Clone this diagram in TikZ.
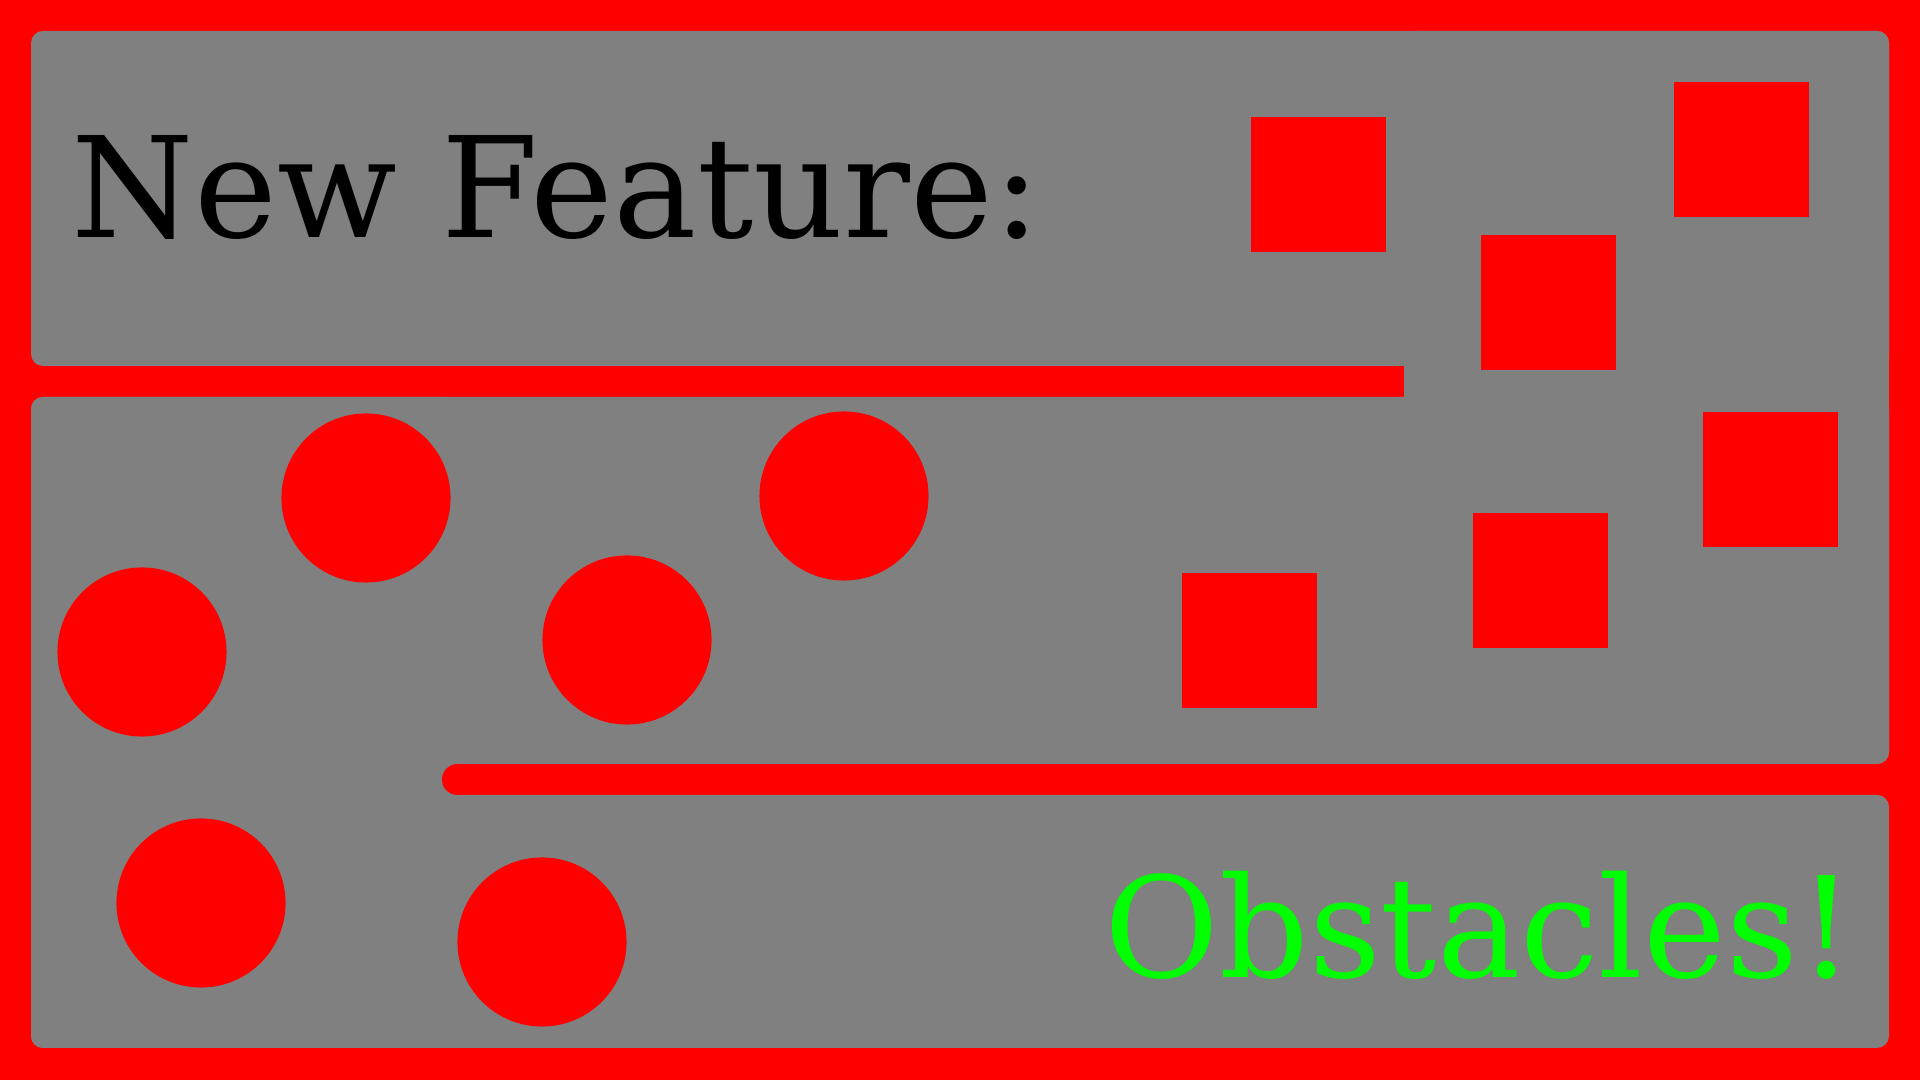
\documentclass[tikz,border=0pt]{standalone}
\usepackage{fontspec}
\usepackage{tkz-euclide}
\setmainfont{DejaVu Serif}
\definecolor{mazered}{HTML}{FF0000}
\definecolor{mazegray}{HTML}{808080}
\definecolor{mazegreen}{HTML}{00FF00}
\tikzset{room/.style={fill=mazegray, rounded corners=0.12cm},
  obstacle/.style={fill=mazered},
  banner/.style={inner sep=0pt, font=\fontsize{39.8}{48}\selectfont}}

\begin{document}
\begin{tikzpicture}[x=0.01cm, y=-0.01cm]
    \fill[mazered] (0,0) rectangle (1920,1080);
    % rooms of the maze
    \fill[room] (31,31) rectangle (1889,366);
    \fill[room] (1404,31) rectangle (1889,764);
    \fill[room] (31,397) rectangle (1889,764);
    \fill[room] (31,795) rectangle (1889,1048);
    \fill[room] (31,397) rectangle (458,1048);
    \fill[mazered] (457.5,779.5) circle (0.155cm);
    % obstacles
    \tkzDefPoints{366/498/c1, 844/496/c2, 142/652/c3, 627/640/c4, 201/903/c5, 542/942/c6}
    \tkzDefPoints{1251/117/s1, 1674/82/s2, 1481/235/s3, 1703/412/s4, 1473/513/s5, 1182/573/s6}
    \foreach \i in {1,...,6} \fill[obstacle] (c\i) circle (0.845cm);
    \foreach \i in {1,...,6} \fill[obstacle] (s\i) rectangle ++(135,135);
    \node[banner, anchor=base west] (title) at (71,238) {New Feature:};
    \node[banner, anchor=base west, text=mazegreen] (warn) at (1104,978) {Obstacles!};
\end{tikzpicture}
\end{document}
